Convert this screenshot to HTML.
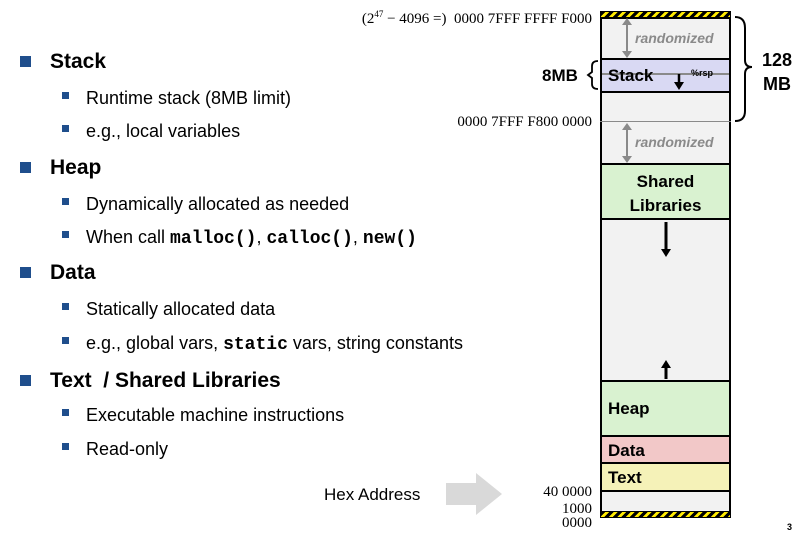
<!DOCTYPE html>
<html><head><meta charset="utf-8"><style>
body{margin:0;width:798px;height:535px;background:#fff;position:relative;overflow:hidden;font-family:"Liberation Sans",sans-serif;color:#000}
.a{position:absolute;white-space:nowrap}
.h{font-weight:bold;font-size:21px}
.s{font-size:18px}
.b1{position:absolute;width:11px;height:11px;background:#1f4e8c}
.b2{position:absolute;width:7px;height:7px;background:#1f4e8c}
.m{font-family:"Liberation Mono",monospace;font-weight:bold}
.adr{position:absolute;font-family:"Liberation Serif",serif;font-size:15px;text-align:right;white-space:nowrap}
.box{position:absolute;left:600px;width:131px;border:2px solid #000;box-sizing:border-box}
.hatch{position:absolute;left:600px;width:131px;height:7px;background:repeating-linear-gradient(135deg,#000 0 3px,#ffea00 3px 6px);border:1px solid #000;box-sizing:border-box}
.lbl{position:absolute;font-weight:bold;font-size:17px}
.rnd{position:absolute;font-style:italic;font-weight:bold;color:#8a8a8a;font-size:14px;left:635px}
</style></head><body>
<div class="b1" style="left:20px;top:56px"></div><div class="a h" style="left:50px;top:50px">Stack</div>
<div class="b2" style="left:62px;top:92px"></div><div class="a s" style="left:86px;top:88px">Runtime stack (8MB limit)</div>
<div class="b2" style="left:62px;top:125px"></div><div class="a s" style="left:86px;top:121px">e.g., local variables</div>
<div class="b1" style="left:20px;top:162px"></div><div class="a h" style="left:50px;top:156px">Heap</div>
<div class="b2" style="left:62px;top:198px"></div><div class="a s" style="left:86px;top:194px">Dynamically allocated as needed</div>
<div class="b2" style="left:62px;top:231px"></div><div class="a s" style="left:86px;top:227px">When call <span class="m">malloc()</span>, <span class="m">calloc()</span>, <span class="m">new()</span></div>
<div class="b1" style="left:20px;top:267px"></div><div class="a h" style="left:50px;top:261px">Data</div>
<div class="b2" style="left:62px;top:303px"></div><div class="a s" style="left:86px;top:299px">Statically allocated data</div>
<div class="b2" style="left:62px;top:337px"></div><div class="a s" style="left:86px;top:333px">e.g., global vars, <span class="m">static</span> vars, string constants</div>
<div class="b1" style="left:20px;top:375px"></div><div class="a h" style="left:50px;top:369px">Text&nbsp; / Shared Libraries</div>
<div class="b2" style="left:62px;top:409px"></div><div class="a s" style="left:86px;top:405px">Executable machine instructions</div>
<div class="b2" style="left:62px;top:443px"></div><div class="a s" style="left:86px;top:439px">Read-only</div>

<div class="a" style="left:324px;top:485px;font-size:17px">Hex Address</div>
<svg class="a" style="left:446px;top:473px" width="56" height="42"><polygon points="0,10 30,10 30,0 56,21 30,42 30,32 0,32" fill="#d9d9d9"/></svg>

<div class="adr" style="right:206px;top:9px">(2<sup style="font-size:9px">47</sup> − 4096 =)&nbsp;&nbsp;0000 7FFF FFFF F000</div>
<div class="adr" style="right:206px;top:114px">0000 7FFF F800 0000</div>
<div class="adr" style="right:206px;top:484px">40 0000</div>
<div class="adr" style="right:206px;top:502px;line-height:14px">1000<br>0000</div>

<div class="box" style="top:17px;height:43px;background:#f2f2f2"></div>
<div class="box" style="top:58px;height:35px;background:#d9d9f3"></div>
<div class="box" style="top:91px;height:33px;background:#f2f2f2;border-bottom:none"></div>
<div style="position:absolute;left:600px;top:121px;width:131px;height:2px;background:#8a8a8a"></div>
<div class="box" style="top:122px;height:43px;background:#f2f2f2;border-top:none"></div>
<div class="box" style="top:163px;height:57px;background:#d9f2d0"></div>
<div class="box" style="top:218px;height:164px;background:#f2f2f2"></div>
<div class="box" style="top:380px;height:57px;background:#d9f2d0"></div>
<div class="box" style="top:435px;height:29px;background:#f2c8c8"></div>
<div class="box" style="top:462px;height:30px;background:#f5f2b8"></div>
<div class="box" style="top:490px;height:24px;background:#f2f2f2"></div>
<div class="hatch" style="top:11px"></div>
<div class="hatch" style="top:511px"></div>

<svg class="a" style="left:0;top:0" width="798" height="535">
<g stroke="#8a8a8a" stroke-width="2" fill="#8a8a8a">
<line x1="627" y1="22" x2="627" y2="54"/><polygon points="622,25 627,18 632,25" stroke="none"/><polygon points="622,51 627,58 632,51" stroke="none"/>
<line x1="627" y1="127" x2="627" y2="159"/><polygon points="622,130 627,123 632,130" stroke="none"/><polygon points="622,156 627,163 632,156" stroke="none"/>
<line x1="602" y1="74" x2="729" y2="74"/>
</g>
<line x1="679" y1="74" x2="679" y2="83" stroke="#000" stroke-width="2.5"/><polygon points="674,82 684,82 679,90" fill="#000"/>
<line x1="666" y1="222" x2="666" y2="250" stroke="#000" stroke-width="3"/><polygon points="661,249 671,249 666,257" fill="#000"/>
<line x1="666" y1="367" x2="666" y2="379" stroke="#000" stroke-width="3"/><polygon points="661,368 671,368 666,360" fill="#000"/>
<path d="M735,17 Q745,17 745,28 L745,60 Q745,67 752,67 Q745,67 745,74 L745,111 Q745,121 735,121" fill="none" stroke="#000" stroke-width="2"/>
<path d="M598,61 Q592,61 592,66 L592,72 L588,75 L592,78 L592,84 Q592,89 598,89" fill="none" stroke="#000" stroke-width="1.8"/>
</svg>
<div class="lbl" style="left:608px;top:66px">Stack</div>
<div class="a" style="left:691px;top:68px;font-size:9px;font-weight:bold">%rsp</div>
<div class="a" style="left:542px;top:66px;font-size:17px;font-weight:bold">8MB</div>
<div class="a" style="left:762px;top:48px;font-size:18px;font-weight:bold;text-align:center;line-height:24px">128<br>MB</div>
<div class="rnd" style="top:30px">randomized</div>
<div class="rnd" style="top:134px">randomized</div>
<div class="lbl" style="left:600px;width:131px;text-align:center;top:170px;line-height:24px">Shared<br>Libraries</div>
<div class="lbl" style="left:608px;top:399px">Heap</div>
<div class="lbl" style="left:608px;top:441px">Data</div>
<div class="lbl" style="left:608px;top:468px">Text</div>
<div class="a" style="left:787px;top:522px;font-size:9px;font-weight:bold">3</div>
</body></html>
